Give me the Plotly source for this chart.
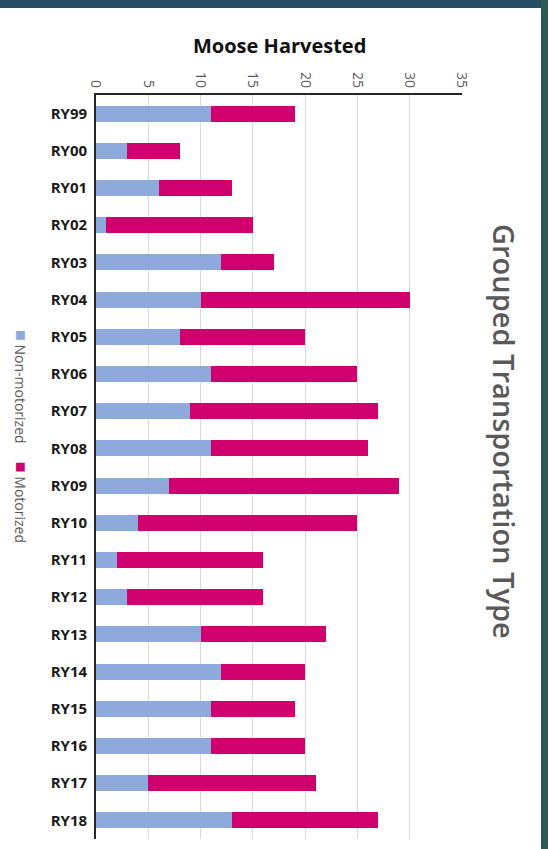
import plotly.graph_objects as go

# Moose harvested by grouped transportation type, per regulatory year
years = ["RY99", "RY00", "RY01", "RY02", "RY03", "RY04", "RY05", "RY06", "RY07", "RY08",
         "RY09", "RY10", "RY11", "RY12", "RY13", "RY14", "RY15", "RY16", "RY17", "RY18"]
non_motorized = [11, 3, 6, 1, 12, 10, 8, 11, 9, 11, 7, 4, 2, 3, 10, 12, 11, 11, 5, 13]
motorized = [8, 5, 7, 14, 5, 20, 12, 14, 18, 15, 22, 21, 14, 13, 12, 8, 8, 9, 16, 14]
x_ticks = [0, 5, 10, 15, 20, 25, 30, 35]

blue = "#8eaadc"
pink = "#d0006f"
grey_txt = "#595959"

W, H = 548, 849
ML, MR, MT, MB = 96, 86, 95, 10

fig = go.Figure()
fig.add_trace(go.Bar(y=years, x=non_motorized, orientation="h", name="Non-motorized",
                     marker=dict(color=blue, line=dict(width=0))))
fig.add_trace(go.Bar(y=years, x=motorized, orientation="h", name="Motorized",
                     marker=dict(color=pink, line=dict(width=0))))

fig.update_layout(
    width=W, height=H,
    margin=dict(l=ML, r=MR, t=MT, b=MB),
    barmode="stack", bargap=0.57,
    showlegend=False,
    paper_bgcolor="white", plot_bgcolor="white",
    font=dict(family="Open Sans", color=grey_txt),
)
fig.update_xaxes(
    side="top", range=[0, 35], tickvals=x_ticks, tickangle=90,
    tickfont=dict(size=14, color=grey_txt),
    showgrid=True, gridcolor="#d9d9d9", gridwidth=1,
    showline=True, linecolor="#262626", linewidth=2,
    zeroline=False, ticks="",
)
fig.update_yaxes(
    categoryorder="array", categoryarray=years, autorange="reversed",
    tickfont=dict(size=15, color="#1a1a1a", family="Open Sans", weight="bold"),
    showline=True, linecolor="#262626", linewidth=2,
    showgrid=False, ticks="", ticksuffix=" ",
)

# dark frame around the white slide panel
pw = (W - ML - MR)
ph = (H - MT - MB)
def px_x(v):
    return (v - ML) / pw
def px_y(v):
    return 1 - (v - MT) / ph
fig.add_shape(type="rect", xref="paper", yref="paper", layer="below",
              x0=px_x(-2), x1=px_x(W + 2), y0=px_y(-2), y1=px_y(8),
              line=dict(width=0), fillcolor="#244f62")
fig.add_shape(type="rect", xref="paper", yref="paper", layer="below",
              x0=px_x(541), x1=px_x(W + 2), y0=px_y(-2), y1=px_y(H + 2),
              line=dict(width=0), fillcolor="#2b5a52")

fig.add_annotation(text="<b>Moose Harvested</b>", xref="paper", yref="paper",
                   x=0.5, y=px_y(45), xanchor="center", yanchor="middle",
                   showarrow=False, font=dict(size=20, color="#111111"))
fig.add_annotation(text="Grouped Transportation Type", textangle=90,
                   xref="paper", yref="paper", x=px_x(504), y=px_y(432),
                   xanchor="center", yanchor="middle",
                   showarrow=False, font=dict(size=29, color=grey_txt, weight=600))
fig.add_annotation(
    text=f"<span style='color:{blue};font-size:18px'>■</span> Non-motorized     "
         f"<span style='color:{pink};font-size:18px'>■</span> Motorized",
    textangle=90, xref="paper", yref="paper", x=px_x(22), y=px_y(436),
    xanchor="center", yanchor="middle",
    showarrow=False, font=dict(size=14, color=grey_txt))

fig.write_html("out.html", config={"displayModeBar": False},
               post_script="document.body.style.margin='0';")
